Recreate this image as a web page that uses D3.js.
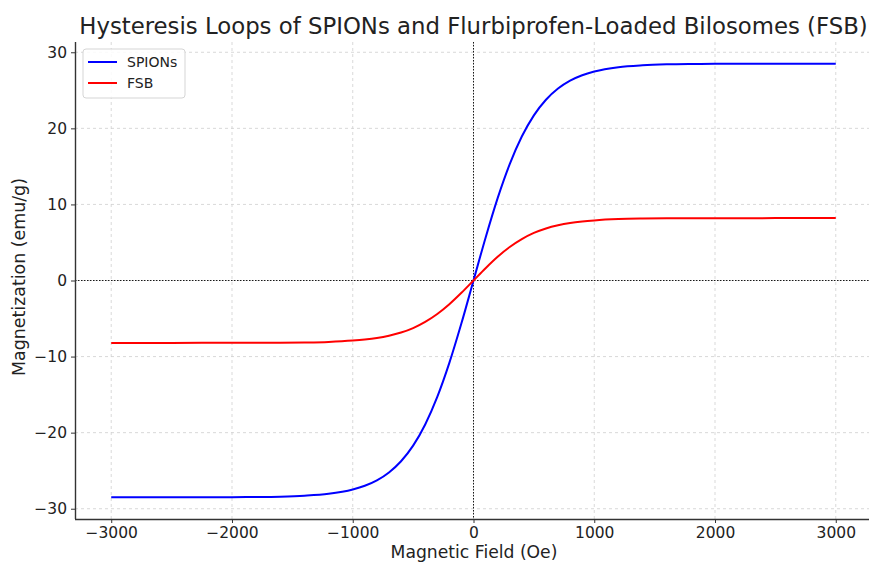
<!DOCTYPE html>
<html><head><meta charset="utf-8">
<script src="https://cdn.jsdelivr.net/npm/d3@7"></script>
<style>body{margin:0;background:#fff;} text{font-family:"DejaVu Sans",sans-serif;}</style>
</head><body>
<svg id="chart" width="869" height="563"></svg>
<script>
const fieldOe = [-3000,-2500,-2000,-1800,-1600,-1400,-1200,-1000,-900,-800,-700,-600,-500,-400,-300,-200,-100,0,100,200,300,400,500,600,700,800,900,1000,1200,1400,1600,1800,2000,2500,3000];
const spionsM = [-28.50,-28.50,-28.48,-28.46,-28.41,-28.29,-28.04,-27.47,-26.98,-26.27,-25.23,-23.76,-21.71,-18.92,-15.30,-10.83,-5.63,0,5.63,10.83,15.30,18.92,21.71,23.76,25.23,26.27,26.98,27.47,28.04,28.29,28.41,28.46,28.48,28.50,28.50];
const fsbM = [-8.20,-8.20,-8.19,-8.19,-8.17,-8.14,-8.07,-7.90,-7.76,-7.56,-7.26,-6.84,-6.25,-5.44,-4.40,-3.12,-1.62,0,1.62,3.12,4.40,5.44,6.25,6.84,7.26,7.56,7.76,7.90,8.07,8.14,8.17,8.19,8.19,8.20,8.20];
const xTicks = [-3000,-2000,-1000,0,1000,2000,3000];
const yTicks = [-30,-20,-10,0,10,20,30];
const seriesNames = ["SPIONs","FSB"];
const seriesColors = ["#0000ff","#ff0000"];
const titleText = "Hysteresis Loops of SPIONs and Flurbiprofen-Loaded Bilosomes (FSB)";
const xLabel = "Magnetic Field (Oe)";
const yLabel = "Magnetization (emu/g)";

const svg = d3.select("#chart");
const L = 75, R = 872, T = 42, B = 519;
const x = d3.scaleLinear().domain([-3300,3300]).range([L,R]);
const y = d3.scaleLinear().domain([-31.35,31.35]).range([B,T]);
const fmt = d => d < 0 ? "\u2212" + Math.abs(d) : String(d);

// grid
const g = svg.append("g");
g.selectAll(".gx").data(xTicks).join("line")
  .attr("x1", d=>x(d)).attr("x2", d=>x(d)).attr("y1", T).attr("y2", B)
  .attr("stroke","#cfcfcf").attr("stroke-width",0.8).attr("stroke-dasharray","3,3");
g.selectAll(".gy").data(yTicks).join("line")
  .attr("y1", d=>y(d)).attr("y2", d=>y(d)).attr("x1", L).attr("x2", R)
  .attr("stroke","#cfcfcf").attr("stroke-width",0.8).attr("stroke-dasharray","3,3");

// zero lines
svg.append("line").attr("x1",L).attr("x2",R).attr("y1",y(0)).attr("y2",y(0))
  .attr("stroke","#000").attr("stroke-width",0.9).attr("stroke-dasharray","1.5,1.5");
svg.append("line").attr("x1",x(0)).attr("x2",x(0)).attr("y1",T).attr("y2",B)
  .attr("stroke","#000").attr("stroke-width",0.9).attr("stroke-dasharray","1.5,1.5");

// curves
const line = d3.line().x(d=>x(d[0])).y(d=>y(d[1])).curve(d3.curveMonotoneX);
[spionsM, fsbM].forEach((vals,i)=>{
  svg.append("path").datum(fieldOe.map((h,j)=>[h, vals[j]]))
    .attr("d", line).attr("fill","none").attr("stroke", seriesColors[i]).attr("stroke-width",2);
});

// axes
const xAxis = d3.axisBottom(x).tickValues(xTicks).tickFormat(fmt).tickSize(4).tickPadding(4);
const yAxis = d3.axisLeft(y).tickValues(yTicks).tickFormat(fmt).tickSize(4).tickPadding(4);
const gx = svg.append("g").attr("transform",`translate(0,${B})`).call(xAxis);
const gy = svg.append("g").attr("transform",`translate(${L},0)`).call(yAxis);
[gx,gy].forEach(a=>{
  a.select(".domain").attr("stroke","#333").attr("stroke-width",1.4);
  a.selectAll(".tick line").attr("stroke","#333").attr("stroke-width",1);
  a.selectAll(".tick text").attr("font-family","DejaVu Sans").attr("font-size",15.5).attr("fill","#222");
});
gx.select(".domain").attr("d", `M${L},0.5H${R}`);
gy.select(".domain").attr("d", `M0.5,${B}V${T}`);

// labels
svg.append("text").attr("x",(L+R)/2).attr("y",34).attr("text-anchor","middle")
  .attr("font-size",22.8).attr("fill","#222").text(titleText);
svg.append("text").attr("x",474).attr("y",558).attr("text-anchor","middle")
  .attr("font-size",17.2).attr("fill","#222").text(xLabel);
svg.append("text").attr("transform",`translate(25,277) rotate(-90)`).attr("text-anchor","middle")
  .attr("font-size",17.4).attr("fill","#222").text(yLabel);

// legend
const lg = svg.append("g").attr("transform","translate(83,49)");
lg.append("rect").attr("width",102).attr("height",49).attr("rx",3)
  .attr("fill","#fff").attr("fill-opacity",0.85).attr("stroke","#d5d5d5").attr("stroke-width",1);
seriesNames.forEach((n,i)=>{
  const yy = 13 + i*21;
  lg.append("line").attr("x1",5).attr("x2",34).attr("y1",yy).attr("y2",yy)
    .attr("stroke",seriesColors[i]).attr("stroke-width",2);
  lg.append("text").attr("x",44).attr("y",yy+5).attr("font-size",14).attr("fill","#222").text(n);
});
</script>
</body></html>
